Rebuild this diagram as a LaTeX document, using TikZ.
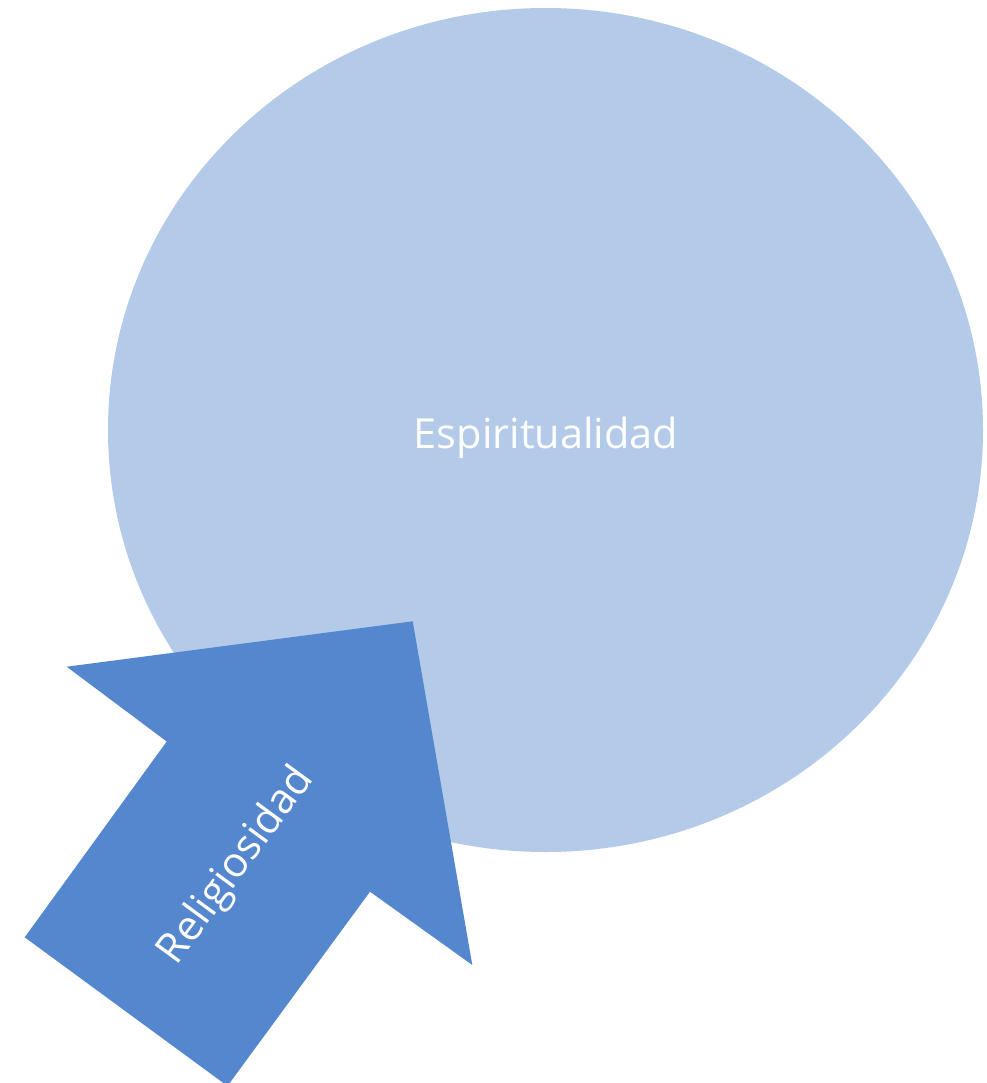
\documentclass[tikz,border=0pt]{standalone}
\usepackage{fontspec}
\setmainfont{Open Sans}
\definecolor{ellfill}{HTML}{B4CAE9}
\definecolor{arrowfill}{HTML}{5587CF}
\begin{document}
\begin{tikzpicture}[x=1pt,y=-1pt,
  lbl/.style={text=white,font=\fontsize{41.5}{50}\selectfont,inner sep=0pt}]
\useasboundingbox (0,0) rectangle (986,1083);
\begin{scope}
\clip (0,0) rectangle (986,1083);
\fill[ellfill] (545.5,430) ellipse [x radius=437.5, y radius=422];
\node[lbl,anchor=base] (espi) at (546,448) {Espiritualidad};
\fill[arrowfill] (66.7,666.7) -- (412.7,621.3) -- (472.3,965) -- (370,891.7)
  -- (227.5,1086) -- (24.7,937.3) -- (166.7,741.5) -- cycle;
\node[lbl,rotate=53.7] (reli) at (237,866) {Religiosidad};
\end{scope}
\end{tikzpicture}
\end{document}
